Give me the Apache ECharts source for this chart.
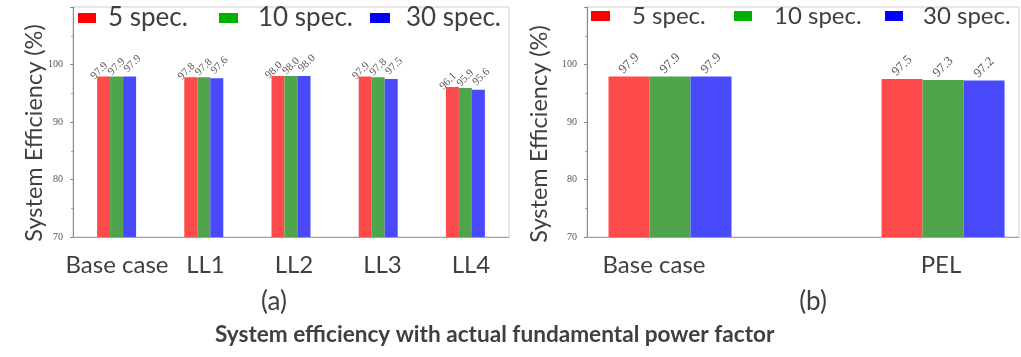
<!DOCTYPE html>
<html>
<head>
<meta charset="utf-8">
<script src="https://cdn.jsdelivr.net/npm/echarts@6/dist/echarts.min.js"></script>
<style>
  html, body { margin: 0; padding: 0; background: #fff; }
  #chart { width: 1021px; height: 357px; }
</style>
</head>
<body>
<div id="chart"></div>
<script>
// Panel (a): line-loss cases
const categoriesA = ['Base case', 'LL1', 'LL2', 'LL3', 'LL4'];
const spec5A  = [97.9, 97.8, 98.0, 97.9, 96.1];
const spec10A = [97.9, 97.8, 98.0, 97.8, 95.9];
const spec30A = [97.9, 97.6, 98.0, 97.5, 95.6];

// Panel (b): base case vs PEL
const categoriesB = ['Base case', 'PEL'];
const spec5B  = [97.9, 97.5];
const spec10B = [97.9, 97.3];
const spec30B = [97.9, 97.2];

const seriesNames = ['5 spec.', '10 spec.', '30 spec.'];
const yTickLabels = [70, 80, 90, 100];
const yAxisTitle = 'System Efficiency (%)';
const panelLabels = ['(a)', '(b)'];
const figureTitle = 'System efficiency with actual fundamental power factor';

const barColors = ['#fd4b4b', '#4ea54c', '#4a4afd'];
const legendColors = ['#ff0000', '#00b000', '#0000ff'];
const textColor = '#404040';
const sansFont = 'Lato, "Open Sans", sans-serif';
const serifFont = '"Liberation Serif", "DejaVu Serif", serif';

const chart = echarts.init(document.getElementById('chart'));

function yAxisFor(gridIndex) {
  return {
    type: 'value', gridIndex: gridIndex, min: 70, max: 110, interval: 10,
    axisLine: { show: true, onZero: false, lineStyle: { color: '#8a8a8a', width: 1 } },
    axisTick: { show: true, length: 3, lineStyle: { color: '#8a8a8a' } },
    minorTick: { show: true, splitNumber: 2, length: 2, lineStyle: { color: '#aaa' } },
    splitLine: { show: false },
    axisLabel: {
      fontFamily: serifFont, fontSize: 10, color: '#555', margin: 10,
      formatter: v => (yTickLabels.indexOf(v) >= 0 ? String(v) : '')
    }
  };
}

const catLabel = { fontFamily: sansFont, fontSize: 24, color: textColor, margin: 16, interval: 0 };

// Rotated value labels; per-series horizontal nudge keeps neighbours apart
const labelNudgeA = [-6, 0, 4];
function valueLabel(size, dist, dx) {
  return {
    show: true, position: 'top', rotate: 45, distance: dist,
    align: 'center', verticalAlign: 'middle', offset: [dx, 0],
    fontFamily: serifFont, fontSize: size, color: '#555',
    formatter: p => (Array.isArray(p.value) ? p.value[1] : p.value).toFixed(1)
  };
}

const valuesA = [spec5A, spec10A, spec30A];
const valuesB = [spec5B, spec10B, spec30B];

const series = [];
valuesA.forEach((vals, k) => {
  series.push({
    name: seriesNames[k], type: 'bar', xAxisIndex: 0, yAxisIndex: 0,
    data: vals, barWidth: 13, barGap: '0%',
    itemStyle: { color: barColors[k] },
    label: valueLabel(11, 10, labelNudgeA[k])
  });
});
valuesB.forEach((vals, k) => {
  series.push({
    name: seriesNames[k], type: 'bar', xAxisIndex: 1, yAxisIndex: 1,
    data: vals.map((v, i) => [i, v]), barWidth: 41, barGap: '0%',
    itemStyle: { color: barColors[k] },
    label: valueLabel(13, 13, 0)
  });
});

// One legend entry per box so each key sits where it belongs in its panel
const legendSpecs = [
  { left: 78,  top: 5, w: 18, pad: 7,  size: 26, k: 0 },
  { left: 219, top: 5, w: 19, pad: 15, size: 26, k: 1 },
  { left: 370, top: 5, w: 20, pad: 11, size: 26, k: 2 },
  { left: 591, top: 4, w: 19, pad: 17, size: 24, k: 0 },
  { left: 734, top: 4, w: 18, pad: 17, size: 24, k: 1 },
  { left: 885, top: 4, w: 18, pad: 15, size: 24, k: 2 }
];
const legends = legendSpecs.map(s => ({
  left: s.left, top: s.top, itemWidth: s.w, itemHeight: 10, padding: 0,
  icon: 'rect',
  data: [{ name: seriesNames[s.k], itemStyle: { color: legendColors[s.k] } }],
  formatter: n => '{t|' + n + '}',
  textStyle: {
    fontFamily: sansFont, fontSize: s.size, color: textColor,
    rich: { t: { fontFamily: sansFont, fontSize: s.size, lineHeight: 30, color: textColor, padding: [0, 0, 0, s.pad] } }
  }
}));

function axisTitle(x, y) {
  return {
    type: 'text', x: x, y: y, rotation: Math.PI / 2,
    style: { text: yAxisTitle, fontFamily: sansFont, fontSize: 23.5, fill: textColor, align: 'center', verticalAlign: 'middle' }
  };
}
function panelTag(x, y, text) {
  return {
    type: 'text', x: x, y: y,
    style: { text: text, fontFamily: sansFont, fontSize: 26, fill: textColor, align: 'center', verticalAlign: 'middle' }
  };
}

chart.setOption({
  animation: false,
  title: {
    text: figureTitle, left: 215, top: 323, padding: 0,
    textStyle: { fontFamily: sansFont, fontSize: 22.6, fontWeight: 'bold', color: textColor }
  },
  legend: legends,
  grid: [
    { left: 73, top: 7, width: 436, height: 230, show: true, borderColor: '#cfcfcf', borderWidth: 1 },
    { left: 587, top: 7, width: 432, height: 230, show: true, borderColor: '#cfcfcf', borderWidth: 1 },
    { left: 654, top: 7, width: 287, height: 230, show: false },
    { left: 117, top: 7, width: 354, height: 230, show: false }
  ],
  xAxis: [
    {
      type: 'category', gridIndex: 0, data: categoriesA,
      axisLine: { lineStyle: { color: '#a0a0a0' } }, axisTick: { show: false },
      axisLabel: { show: false }
    },
    {
      type: 'value', gridIndex: 1, min: -0.304, max: 1.278,
      axisLine: { show: true, onZero: false, lineStyle: { color: '#a0a0a0' } },
      axisTick: { show: false }, axisLabel: { show: false }, splitLine: { show: false }
    },
    {
      type: 'category', gridIndex: 2, data: categoriesB, boundaryGap: false,
      axisLine: { show: false }, axisTick: { show: false },
      axisLabel: catLabel
    },
    {
      type: 'category', gridIndex: 3, data: categoriesA, boundaryGap: false,
      axisLine: { show: false }, axisTick: { show: false },
      axisLabel: catLabel
    }
  ],
  yAxis: [
    yAxisFor(0),
    yAxisFor(1),
    { type: 'value', gridIndex: 2, show: false },
    { type: 'value', gridIndex: 3, show: false }
  ],
  graphic: [
    axisTitle(34, 133),
    axisTitle(539, 134),
    panelTag(274, 302, panelLabels[0]),
    panelTag(813, 302, panelLabels[1])
  ],
  series: series
});
</script>
</body>
</html>
